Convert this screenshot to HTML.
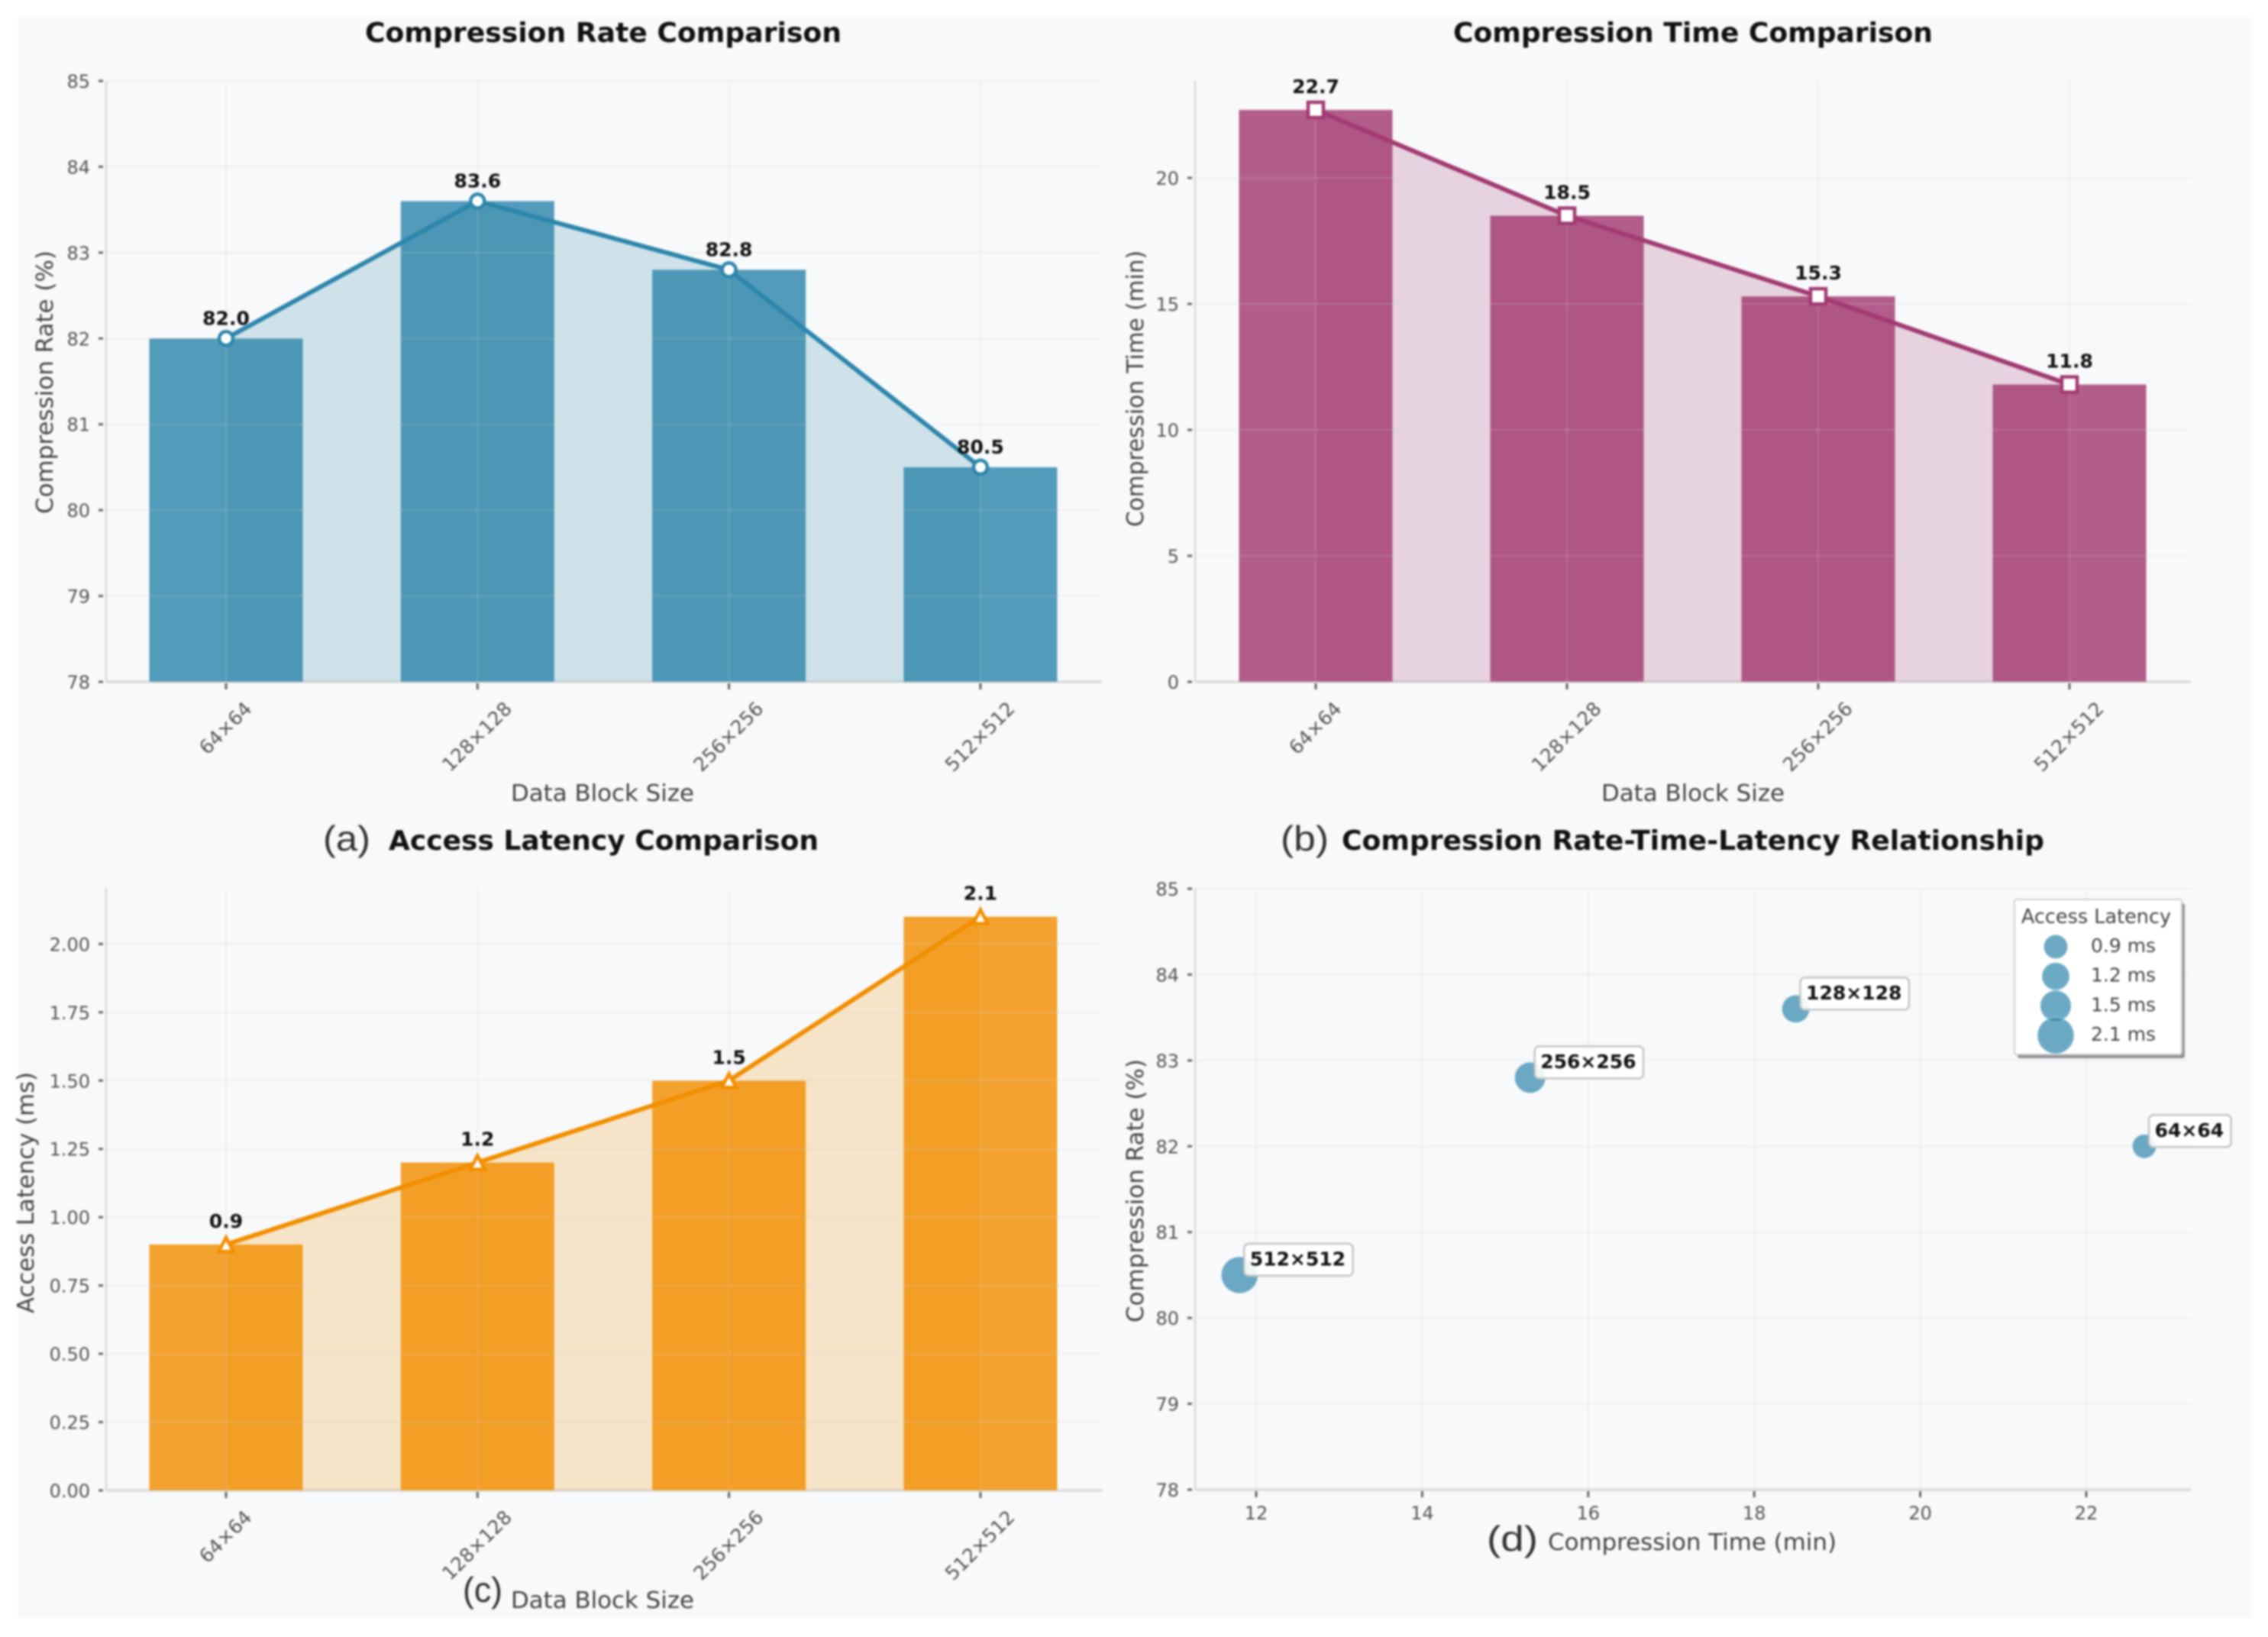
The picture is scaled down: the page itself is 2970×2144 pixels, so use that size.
<!DOCTYPE html>
<html lang="en">
<head>
<meta charset="utf-8">
<title>Compression comparison charts</title>
<style>
html,body{margin:0;padding:0;background:#fff;}
svg{display:block;filter:blur(1.2px);font-family:"DejaVu Sans","Liberation Sans",sans-serif;}
.title{font-weight:700;font-size:36px;fill:#111;}
.axis-title{font-size:30px;fill:#444;}
.caption{font-family:"Liberation Sans",sans-serif;font-size:46px;fill:#333;}
</style>
</head>
<body>
<svg id="figure" xmlns="http://www.w3.org/2000/svg" width="2970" height="2144" viewBox="0 0 2970 2144">
  <rect x="24" y="23" width="2924" height="2096" fill="#f8f9fb"/>
  <g id="panel-a"></g>
  <g id="panel-b"></g>
  <g id="panel-c"></g>
  <g id="panel-d"></g>

  <text class="title" x="478" y="55" textLength="624" lengthAdjust="spacingAndGlyphs">Compression Rate Comparison</text>
  <text class="title" x="1903" y="55" textLength="628" lengthAdjust="spacingAndGlyphs">Compression Time Comparison</text>
  <text class="title" x="509" y="1113" textLength="563" lengthAdjust="spacingAndGlyphs">Access Latency Comparison</text>
  <text class="title" x="1757" y="1113" textLength="920" lengthAdjust="spacingAndGlyphs">Compression Rate-Time-Latency Relationship</text>

  <text class="axis-title" x="669" y="1049" textLength="240" lengthAdjust="spacingAndGlyphs">Data Block Size</text>
  <text class="axis-title" x="2097" y="1049" textLength="240" lengthAdjust="spacingAndGlyphs">Data Block Size</text>
  <text class="axis-title" x="669" y="2106" textLength="240" lengthAdjust="spacingAndGlyphs">Data Block Size</text>
  <text class="axis-title" x="2027" y="2030" textLength="378" lengthAdjust="spacingAndGlyphs">Compression Time (min)</text>

  <text class="axis-title" transform="translate(69 673) rotate(-90)" textLength="345" lengthAdjust="spacingAndGlyphs">Compression Rate (%)</text>
  <text class="axis-title" transform="translate(1497 690) rotate(-90)" textLength="362" lengthAdjust="spacingAndGlyphs">Compression Time (min)</text>
  <text class="axis-title" transform="translate(44 1720) rotate(-90)" textLength="316" lengthAdjust="spacingAndGlyphs">Access Latency (ms)</text>
  <text class="axis-title" transform="translate(1497 1732) rotate(-90)" textLength="345" lengthAdjust="spacingAndGlyphs">Compression Rate (%)</text>

  <text class="caption" x="423" y="1114" textLength="62" lengthAdjust="spacingAndGlyphs">(a)</text>
  <text class="caption" x="1677" y="1114" textLength="63" lengthAdjust="spacingAndGlyphs">(b)</text>
  <text class="caption" x="606" y="2098" textLength="52" lengthAdjust="spacingAndGlyphs">(c)</text>
  <text class="caption" x="1947" y="2031" textLength="67" lengthAdjust="spacingAndGlyphs">(d)</text>
</svg>
<script>
const categories = ['64×64', '128×128', '256×256', '512×512'];
const compressionRate = [82.0, 83.6, 82.8, 80.5];
const compressionTime = [22.7, 18.5, 15.3, 11.8];
const accessLatency = [0.9, 1.2, 1.5, 2.1];
const rateTicks = [78, 79, 80, 81, 82, 83, 84, 85];
const timeTicks = [0, 5, 10, 15, 20];
const latencyTicks = [0, 0.25, 0.5, 0.75, 1, 1.25, 1.5, 1.75, 2];
const scatterTimeTicks = [12, 14, 16, 18, 20, 22];

const NS = 'http://www.w3.org/2000/svg';
function mk(tag, attrs, parent) {
  const n = document.createElementNS(NS, tag);
  for (const k in attrs) n.setAttribute(k, attrs[k]);
  parent.appendChild(n);
  return n;
}
function linear(d0, d1, r0, r1) {
  return v => r0 + (v - d0) * (r1 - r0) / (d1 - d0);
}
const GRID = { stroke: '#cfcfcf', 'stroke-opacity': 0.17, 'stroke-width': 2.5 };

function drawFrame(g, left, right, top, bottom, yScale, yTicks, yFmt) {
  const spineY = mk('line', { x1: left, x2: left, y1: top, y2: bottom, stroke: '#dedede', 'stroke-width': 3 }, g);
  
  
  const spineX = mk('line', { x1: left, x2: right, y1: bottom, y2: bottom, stroke: '#e0e0e0', 'stroke-width': 4 }, g);
  
  
  yTicks.forEach(t => {
    const y = yScale(t);
    const mark = mk('line', { x1: left - 10, x2: left - 4, y1: y, y2: y, stroke: '#666', 'stroke-width': 3 }, g);
    
    
    const label = mk('text', { x: left - 21, y: y + 9, 'text-anchor': 'end', 'font-size': 24, fill: '#555' }, g);
    
    
    label.textContent = yFmt(t);
  });
}

function drawGrid(g, left, right, top, bottom, yScale, yTicks, xPositions) {
  yTicks.forEach(t => {
    const line = mk('line', Object.assign({ x1: left, x2: right, y1: yScale(t), y2: yScale(t) }, GRID), g);
    
    
  });
  xPositions.forEach(x => {
    const line = mk('line', Object.assign({ x1: x, x2: x, y1: top, y2: bottom }, GRID), g);
    
    
  });
}

function marker(g, shape, x, y, color) {
  let m;
  if (shape === 'circle') {
    m = mk('circle', { cx: x, cy: y, r: 9, fill: '#fff', stroke: color, 'stroke-width': 4.5 }, g);
  } else if (shape === 'square') {
    m = mk('rect', { x: x - 10, y: y - 10, width: 20, height: 20, fill: '#fff', stroke: color, 'stroke-width': 4.5 }, g);
  } else {
    m = mk('polygon', { points: [[x, y - 9], [x + 9.5, y + 9], [x - 9.5, y + 9]].map(p => p.join(',')).join(' '), fill: '#fff', stroke: color, 'stroke-width': 4.5 }, g);
  }
  
  
}

function barPanel(id, cfg) {
  const g = document.getElementById(id);
  const { left, right, top, bottom, x0, step, values, yMin, yMax, yTicks, yFmt, color, shape, labelGap, labelFmt } = cfg;
  const yScale = linear(yMin, yMax, bottom, top);
  const xBand = i => x0 + step * i;
  const barW = 201;
  drawFrame(g, left, right, top, bottom, yScale, yTicks, yFmt);

  const areaPts = values.map((v, i) => xBand(i) + ',' + yScale(v));
  areaPts.push(xBand(values.length - 1) + ',' + bottom, xBand(0) + ',' + bottom);
  const area = mk('polygon', { points: areaPts.join(' '), fill: color, 'fill-opacity': 0.2 }, g);
  
  

  values.forEach((v, i) => {
    const bar = mk('rect', { x: xBand(i) - barW / 2, y: yScale(v), width: barW, height: bottom - yScale(v), fill: color, 'fill-opacity': 0.82 }, g);
    
    
  });

  drawGrid(g, left, right, top, bottom, yScale, yTicks, values.map((v, i) => xBand(i)));

  const line = mk('polyline', { points: values.map((v, i) => xBand(i) + ',' + yScale(v)).join(' '), fill: 'none', stroke: color, 'stroke-width': 6, 'stroke-linejoin': 'round' }, g);
  
  

  values.forEach((v, i) => {
    marker(g, shape, xBand(i), yScale(v), color);
    const val = mk('text', { x: xBand(i), y: yScale(v) - labelGap, 'text-anchor': 'middle', 'font-size': 25, 'font-weight': 700, fill: '#111' }, g);
    
    
    val.textContent = labelFmt(v);

    const mark = mk('line', { x1: xBand(i), x2: xBand(i), y1: bottom + 2, y2: bottom + 10, stroke: '#666', 'stroke-width': 3 }, g);
    
    

    const tick = mk('text', { x: xBand(i) - 1, y: 0, 'text-anchor': 'middle', 'font-size': 25, fill: '#555' }, g);
    
    
    tick.textContent = categories[i];
    const len = tick.getComputedTextLength();
    const cy = bottom + 24 + (len + 18) * 0.3535;
    tick.setAttribute('y', cy + 9);
    tick.setAttribute('transform', 'rotate(-45 ' + (xBand(i) - 1) + ' ' + cy + ')');
  });
}

barPanel('panel-a', {
  left: 139, right: 1443, top: 106, bottom: 893, x0: 296, step: 329.3,
  values: compressionRate, yMin: 78, yMax: 85, yTicks: rateTicks, yFmt: t => String(t),
  color: '#2E86AB', shape: 'circle', labelGap: 18, labelFmt: v => v.toFixed(1)
});
barPanel('panel-b', {
  left: 1565, right: 2869, top: 106, bottom: 893, x0: 1723, step: 329,
  values: compressionTime, yMin: 0, yMax: 23.85, yTicks: timeTicks, yFmt: t => String(t),
  color: '#A23B72', shape: 'square', labelGap: 22, labelFmt: v => v.toFixed(1)
});
barPanel('panel-c', {
  left: 139, right: 1443, top: 1163, bottom: 1952, x0: 296, step: 329.3,
  values: accessLatency, yMin: 0, yMax: 2.205, yTicks: latencyTicks, yFmt: t => t.toFixed(2),
  color: '#F18F01', shape: 'triangle', labelGap: 22, labelFmt: v => v.toFixed(1)
});

(function scatterPanel() {
  const g = document.getElementById('panel-d');
  const left = 1565, right = 2869, top = 1164, bottom = 1951;
  const yScale = linear(78, 85, bottom, top);
  const xScale = linear(12, 22, 1645, 2732);
  const radius = l => 16.55 * Math.sqrt(l);
  const color = '#2E86AB';
  drawFrame(g, left, right, top, bottom, yScale, rateTicks, t => String(t));
  drawGrid(g, left, right, top, bottom, yScale, rateTicks, scatterTimeTicks.map(xScale));

  scatterTimeTicks.forEach(t => {
    const mark = mk('line', { x1: xScale(t), x2: xScale(t), y1: bottom + 2, y2: bottom + 10, stroke: '#666', 'stroke-width': 3 }, g);
    
    
    const label = mk('text', { x: xScale(t), y: bottom + 39, 'text-anchor': 'middle', 'font-size': 24, fill: '#555' }, g);
    
    
    label.textContent = String(t);
  });

  categories.forEach((c, i) => {
    const px = xScale(compressionTime[i]);
    const py = yScale(compressionRate[i]);
    const dot = mk('circle', { cx: px, cy: py, r: radius(accessLatency[i]), fill: color, 'fill-opacity': 0.7, stroke: '#fff', 'stroke-opacity': 0.5, 'stroke-width': 1 }, g);
    
    
  });

  categories.forEach((c, i) => {
    const px = xScale(compressionTime[i]);
    const py = yScale(compressionRate[i]);
    const box = mk('rect', { x: px + 6, y: py - 41, height: 42, width: 100, rx: 6, ry: 6, fill: '#fff', 'fill-opacity': 0.9, stroke: '#c4c4c4', 'stroke-width': 2.5 }, g);
    
    
    const text = mk('text', { x: px + 13.5, y: py - 12.5, 'font-size': 25, 'font-weight': 700, fill: '#111' }, g);
    
    
    text.textContent = c;
    box.setAttribute('width', text.getComputedTextLength() + 17);
  });

  const lx = 2638, ly = 1178, lw = 219, lh = 203;
  const shadow = mk('rect', { x: lx + 4, y: ly + 5, width: lw, height: lh, rx: 3, fill: '#808080', 'fill-opacity': 0.85 }, g);
  
  
  const frame = mk('rect', { x: lx, y: ly, width: lw, height: lh, rx: 3, fill: '#fff', stroke: '#d0d0d0', 'stroke-width': 2 }, g);
  
  
  const lt = mk('text', { x: lx + 107, y: ly + 31, 'text-anchor': 'middle', 'font-size': 25.5, fill: '#444' }, g);
  
  
  lt.textContent = 'Access Latency';
  accessLatency.forEach((l, i) => {
    const rowY = 1240 + 38.7 * i;
    const swatch = mk('circle', { cx: 2692, cy: rowY, r: radius(l), fill: color, 'fill-opacity': 0.7, stroke: '#fff', 'stroke-opacity': 0.5, 'stroke-width': 1 }, g);
    
    
    const txt = mk('text', { x: 2738, y: rowY + 7, 'font-size': 25, fill: '#444' }, g);
    
    
    txt.textContent = l + ' ms';
  });
})();
</script>
</body>
</html>
